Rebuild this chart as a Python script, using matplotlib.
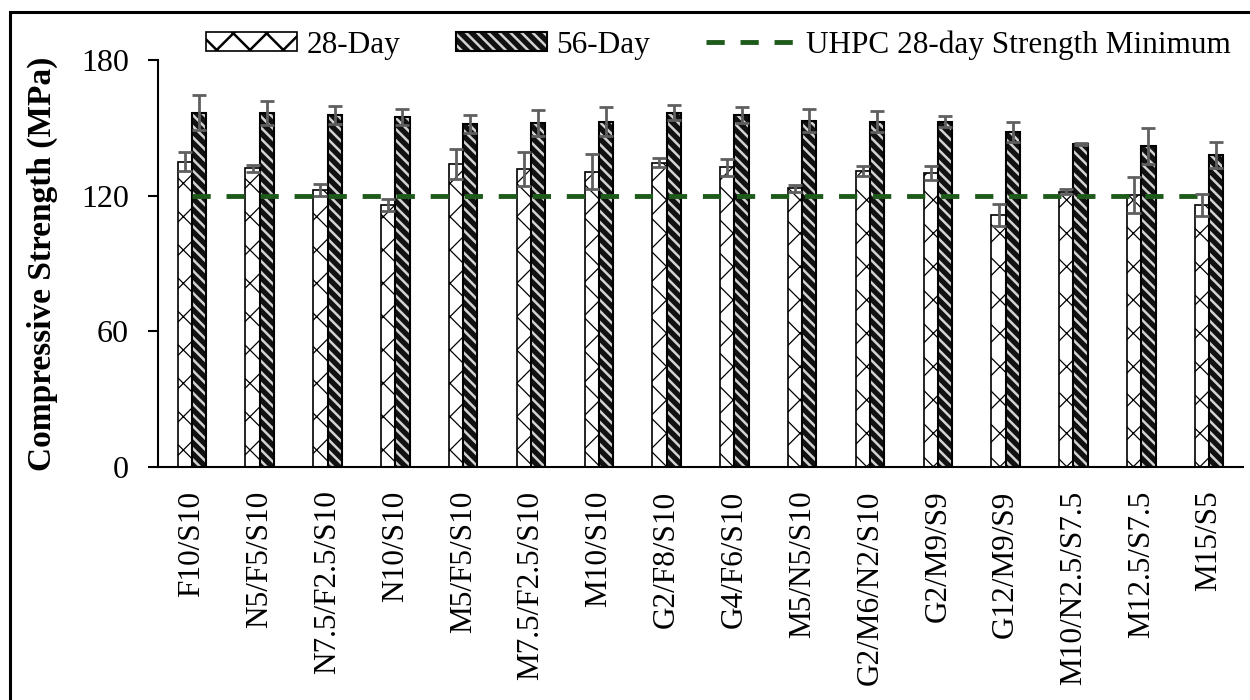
import matplotlib
matplotlib.use("Agg")
import matplotlib.pyplot as plt
import numpy as np
from matplotlib.patches import Rectangle

mixes = ["F10/S10", "N5/F5/S10", "N7.5/F2.5/S10", "N10/S10", "M5/F5/S10",
         "M7.5/F2.5/S10", "M10/S10", "G2/F8/S10", "G4/F6/S10", "M5/N5/S10",
         "G2/M6/N2/S10", "G2/M9/S9", "G12/M9/S9", "M10/N2.5/S7.5",
         "M12.5/S7.5", "M15/S5"]
day28 = [135.0, 132.1, 122.5, 115.9, 134.0, 131.7, 130.6, 134.6, 132.5,
         123.3, 131.0, 129.9, 111.5, 121.8, 120.3, 115.9]
day28_err = [4.3, 1.5, 2.6, 2.5, 6.6, 7.5, 7.6, 2.0, 3.8, 1.5, 2.2, 3.0,
             5.0, 1.2, 8.0, 4.7]
day56 = [156.7, 156.7, 155.7, 154.7, 151.7, 152.3, 152.7, 156.7, 155.7,
         153.2, 152.7, 152.7, 148.3, 142.9, 142.0, 138.0]
day56_err = [7.8, 5.3, 4.0, 3.5, 4.0, 5.8, 6.4, 3.3, 3.7, 5.2, 4.6, 2.5,
             4.4, 0.5, 8.0, 5.7]
uhpc_min = 120

plt.rcParams['font.family'] = ['Liberation Serif', 'DejaVu Serif']

fig = plt.figure(figsize=(12.5, 7), dpi=100)
ax = fig.add_axes([0.1264, 0.3329, 0.868, 0.5814])

x = np.arange(len(mixes))
w = 0.21
errkw = dict(ecolor='#5f5f5f', elinewidth=2, capsize=5, capthick=2, zorder=4)

plt.rcParams['hatch.linewidth'] = 0.9
b28 = ax.bar(x - w / 2, day28, w, yerr=day28_err, color='white',
             edgecolor='black', hatch='x', linewidth=1.2, error_kw=errkw,
             zorder=2)

# 56-day: black fill with light stripes, then a black outline on top
plt.rcParams['hatch.linewidth'] = 1.8
b56 = ax.bar(x + w / 2, day56, w, color='#111111', edgecolor='#d3d3d3',
             hatch='\\\\\\', linewidth=0, zorder=2)
b56o = ax.bar(x + w / 2, day56, w, yerr=day56_err, fill=False,
              edgecolor='black', linewidth=1.5, error_kw=errkw, zorder=2.5)
line, = ax.plot(x, [uhpc_min] * len(x), color='#1e5b1a', lw=3.5,
                dashes=(3.75, 3.25), zorder=3)

ax.set_xlim(-0.5, len(mixes) - 0.5)
ax.set_ylim(0, 180)
ax.set_yticks([0, 60, 120, 180])
ax.set_xticks(x)
ax.set_xticklabels(mixes, rotation=90, fontsize=22.5)
ax.tick_params(axis='x', length=0, pad=17)
ax.tick_params(axis='y', labelsize=23, length=7, width=1.5, pad=14)
for s in ['top', 'right']:
    ax.spines[s].set_visible(False)
ax.spines['left'].set_linewidth(1.5)
ax.spines['bottom'].set_linewidth(1.5)

ax.set_ylabel('Compressive Strength (MPa)', fontsize=24, fontweight='bold')
ax.yaxis.set_label_coords(-0.092, 0.5)

h56 = (b56.patches[0], b56o.patches[0])
fig.legend([b28.patches[0], h56, line],
           ['28-Day', '56-Day', 'UHPC 28-day Strength Minimum'],
           loc='center', bbox_to_anchor=(0.575, 0.936), ncol=3, frameon=False,
           fontsize=22.5, handlelength=2.9, handleheight=0.55, handletextpad=0.3,
           columnspacing=1.8)

fig.patches.append(Rectangle((0.008, -0.1), 1.1, 1.083, transform=fig.transFigure,
                             fill=False, edgecolor='black', lw=2.2))

fig.savefig('out.png', dpi=100)
